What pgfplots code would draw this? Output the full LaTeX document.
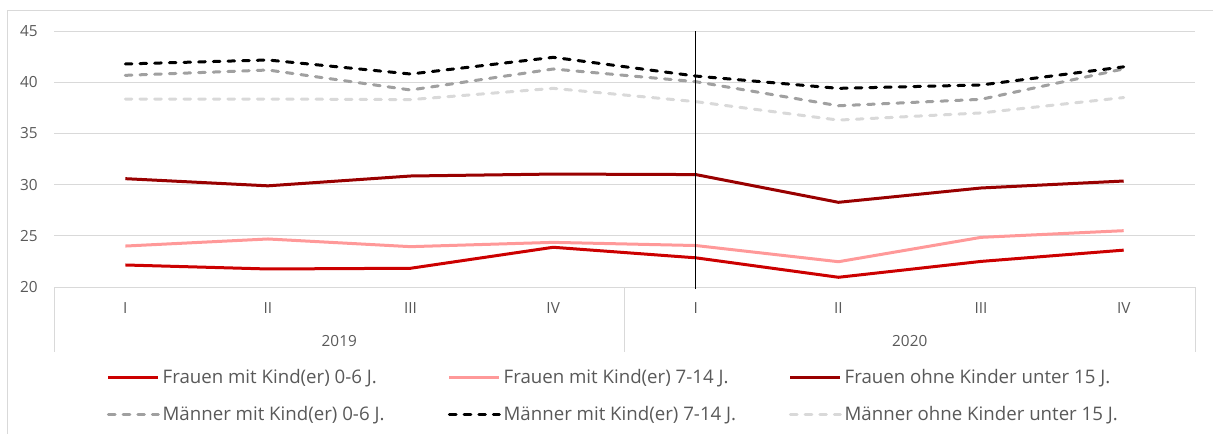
\documentclass[border=0pt]{standalone}
\usepackage{pgfplots}
\pgfplotsset{compat=1.18}
\usepackage{fontspec}
\setmainfont{Open Sans}
\definecolor{txt}{HTML}{595959}
\definecolor{gridc}{HTML}{D9D9D9}
\definecolor{fr06}{HTML}{CC0000}
\definecolor{fr714}{HTML}{FF9999}
\definecolor{frohne}{HTML}{990000}
\definecolor{m06}{HTML}{A0A0A0}
\definecolor{mohne}{HTML}{D9D9D9}
\newcommand{\lt}[1]{\makebox[212pt][l]{\rule[-3.5pt]{0pt}{14pt}#1}}
\begin{document}
\begin{tikzpicture}
\useasboundingbox (-40.5pt,-109.5pt) rectangle (869.25pt,215.25pt);
\draw[gridc, line width=0.75pt] (-34.5pt,-110pt) -- (-34.5pt,207.75pt) -- (870pt,207.75pt);
\begin{axis}[
  at={(0pt,0pt)}, anchor=south west,
  scale only axis, width=855.75pt, height=192pt,
  xmin=-0.5, xmax=7.5, ymin=20, ymax=45,
  xtick={0,...,7}, xticklabels={I,II,III,IV,I,II,III,IV},
  ytick={20,25,...,45},
  ymajorgrids, grid style={gridc, line width=0.75pt},
  axis line style={draw=none},
  major tick length=0pt,
  tick label style={font=\fontsize{11.5}{13}\selectfont, text=txt},
  /pgf/number format/assume math mode=true,
  yticklabel style={anchor=east, inner sep=0pt, xshift=-12pt},
  xticklabel style={anchor=base, inner sep=0pt, yshift=-19.5pt},
  extra x ticks={1.5,5.5}, extra x tick labels={2019,2020},
  extra x tick style={xmajorgrids=false, xticklabel style={yshift=-24.75pt}},
  clip=false,
  legend columns=3,
  legend image code/.code={\draw[#1] (0pt,0pt) -- (37.5pt,0pt);},
  legend style={at={(axis description cs:0.4947,-0.31)}, anchor=north,
    draw=none, fill=none, inner sep=0pt,
    font=\fontsize{14}{16}\selectfont, text=txt,
    /tikz/every even column/.append style={column sep=0pt},
    row sep=11.5pt},
  legend cell align=left,
]
\addplot[fr06, line width=2.25pt] coordinates {(0,22.15) (1,21.76) (2,21.83) (3,23.88) (4,22.85) (5,20.95) (6,22.5) (7,23.6)};
\addlegendentry{\lt{Frauen mit Kind(er) 0-6 J.}}
\addplot[fr714, line width=2.25pt] coordinates {(0,24.0) (1,24.69) (2,23.94) (3,24.36) (4,24.05) (5,22.47) (6,24.85) (7,25.5)};
\addlegendentry{\lt{Frauen mit Kind(er) 7-14 J.}}
\addplot[frohne, line width=2.25pt] coordinates {(0,30.58) (1,29.88) (2,30.84) (3,31.03) (4,30.98) (5,28.27) (6,29.67) (7,30.35)};
\addlegendentry{\lt{Frauen ohne Kinder unter 15 J.}}
\addplot[m06, line width=2.25pt, dash pattern=on 5pt off 6pt, line cap=round] coordinates {(0,40.67) (1,41.19) (2,39.24) (3,41.29) (4,40.05) (5,37.7) (6,38.33) (7,41.3)};
\addlegendentry{\lt{Männer mit Kind(er) 0-6 J.}}
\addplot[black, line width=2.25pt, dash pattern=on 5pt off 6pt, line cap=round] coordinates {(0,41.78) (1,42.17) (2,40.8) (3,42.43) (4,40.6) (5,39.4) (6,39.73) (7,41.5)};
\addlegendentry{\lt{Männer mit Kind(er) 7-14 J.}}
\addplot[mohne, line width=2.25pt, dash pattern=on 5pt off 6pt, line cap=round] coordinates {(0,38.36) (1,38.36) (2,38.3) (3,39.4) (4,38.1) (5,36.3) (6,37.0) (7,38.5)};
\addlegendentry{\lt{Männer ohne Kinder unter 15 J.}}
\addplot[black, line width=0.75pt, forget plot] coordinates {(4,19.8) (4,45)};
\draw[gridc, line width=0.75pt] (axis cs:-0.5,20) -- ++(0pt,-48.75pt);
\draw[gridc, line width=0.75pt] (axis cs:3.5,20) -- ++(0pt,-48.75pt);
\draw[gridc, line width=0.75pt] (axis cs:7.5,20) -- ++(0pt,-48.75pt);
\end{axis}
\end{tikzpicture}
\end{document}
